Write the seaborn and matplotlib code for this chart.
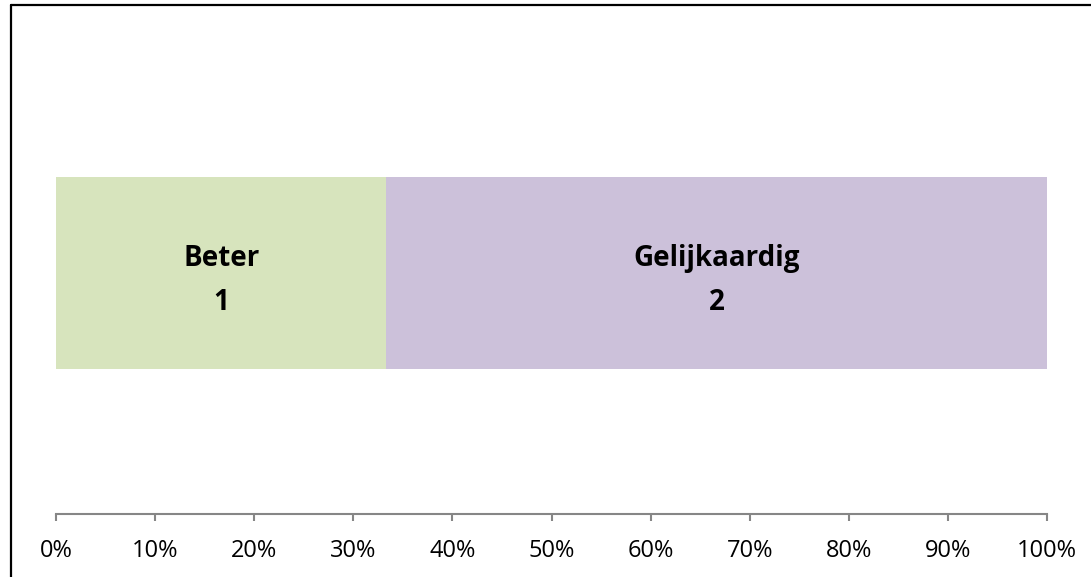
import matplotlib
matplotlib.use('Agg')
import matplotlib.pyplot as plt
import seaborn as sns
import pandas as pd
from matplotlib.lines import Line2D
from matplotlib.ticker import PercentFormatter

categorieen = ['Beter', 'Gelijkaardig']
aantallen = [1, 2]
kleuren = ['#D7E4BD', '#CCC1DA']
ticks = [0, 10, 20, 30, 40, 50, 60, 70, 80, 90, 100]

totaal = sum(aantallen)
percentages = [a / totaal * 100 for a in aantallen]
cumulatief = [sum(percentages[:i + 1]) for i in range(len(percentages))]

sns.set_style('white')
plt.rcParams['font.family'] = ['Open Sans', 'DejaVu Sans']

fig = plt.figure(figsize=(10.91, 5.77), dpi=100)
ax = fig.add_axes([0.0513, 0.1092, 0.9084, 0.839])

# gestapelde balk: eerst de grootste cumulatieve waarde, dan de kleinere erover
for i in reversed(range(len(categorieen))):
    df = pd.DataFrame({'rij': [0], 'waarde': [cumulatief[i]]})
    sns.barplot(data=df, x='waarde', y='rij', orient='h', color=kleuren[i],
                saturation=1, width=0.79, ax=ax, linewidth=0)

links = 0
for i, cat in enumerate(categorieen):
    midden = links + percentages[i] / 2
    ax.text(midden, 0.03, f'{cat}\n{aantallen[i]}', ha='center', va='center',
            fontsize=20, fontweight='bold', linespacing=1.7, color='black')
    links += percentages[i]

ax.set_xlim(0, 100)
ax.set_ylim(0.99, -1.0)
ax.set_xticks(ticks)
ax.xaxis.set_major_formatter(PercentFormatter(decimals=0))
ax.set_yticks([])
ax.set_xlabel('')
ax.set_ylabel('')
for s in ['top', 'right', 'left']:
    ax.spines[s].set_visible(False)
ax.spines['bottom'].set_color('#868686')
ax.spines['bottom'].set_linewidth(1.5)
ax.tick_params(axis='x', direction='out', length=5, width=1.5, color='#868686',
               labelsize=17, pad=13, labelcolor='black', bottom=True)
ax.patch.set_alpha(0)

# rand van de grafiek (links en boven)
fig.add_artist(Line2D([11 / 1091, 11 / 1091], [0, 1 - 5 / 577], color='black', lw=1.6))
fig.add_artist(Line2D([11 / 1091, 1], [1 - 5 / 577, 1 - 5 / 577], color='black', lw=1.6))

fig.savefig('out.png', dpi=100)
